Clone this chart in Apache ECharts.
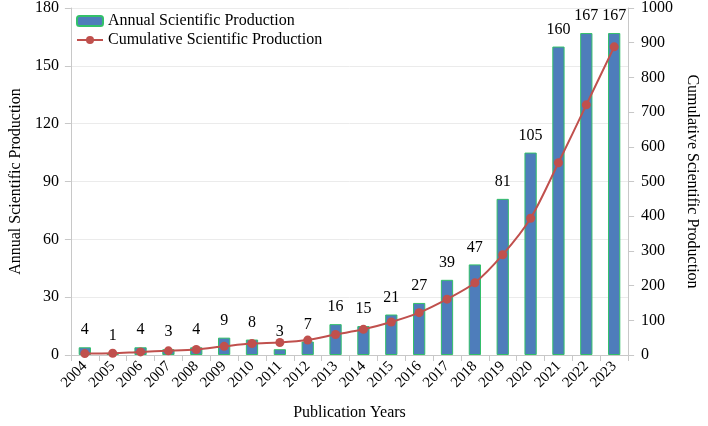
<!DOCTYPE html>
<html>
<head>
<meta charset="utf-8">
<script src="https://cdn.jsdelivr.net/npm/echarts@6/dist/echarts.min.js"></script>
<style>
  html, body { margin: 0; padding: 0; background: #fff; }
  #chart { width: 708px; height: 426px; }
</style>
</head>
<body>
<div id="chart"></div>
<script>
// data
const years = ['2004','2005','2006','2007','2008','2009','2010','2011','2012','2013',
               '2014','2015','2016','2017','2018','2019','2020','2021','2022','2023'];
const annual = [4, 1, 4, 3, 4, 9, 8, 3, 7, 16, 15, 21, 27, 39, 47, 81, 105, 160, 167, 167];
const cumulative = [4, 5, 9, 12, 16, 25, 33, 36, 43, 59, 74, 95, 122, 161, 208, 289, 394, 554, 721, 888];

const font = 'Liberation Serif, Times New Roman, serif';
const axisGray = '#c8c8c8';

const myChart = echarts.init(document.getElementById('chart'));

const option = {
  animation: false,
  textStyle: { fontFamily: font, color: '#000' },
  grid: { left: 55, right: 65, top: 8, bottom: 65 },
  legend: {
    orient: 'vertical',
    left: 71,
    top: 8,
    itemGap: 3,
    itemWidth: 26,
    itemHeight: 10,
    textStyle: { fontFamily: font, fontSize: 16, color: '#000' },
    data: ['Annual Scientific Production', 'Cumulative Scientific Production']
  },
  xAxis: {
    type: 'category',
    data: years,
    name: 'Publication Years',
    nameLocation: 'middle',
    nameGap: 50,
    nameTextStyle: { fontFamily: font, fontSize: 16, color: '#000' },
    axisLine: { lineStyle: { color: axisGray } },
    axisTick: { show: true, length: 6, lineStyle: { color: axisGray } },
    axisLabel: { rotate: 45, fontFamily: font, fontSize: 15, color: '#000', margin: 9 }
  },
  yAxis: [
    {
      type: 'value',
      min: 0, max: 180, interval: 30,
      name: 'Annual Scientific Production',
      nameLocation: 'middle',
      nameGap: 39,
      nameTextStyle: { fontFamily: font, fontSize: 16, color: '#000' },
      axisLine: { show: true, lineStyle: { color: axisGray } },
      axisTick: { show: true, length: 6, lineStyle: { color: axisGray } },
      axisLabel: { fontFamily: font, fontSize: 16, color: '#000', margin: 12 },
      splitLine: { lineStyle: { color: '#ebebeb' } }
    },
    {
      type: 'value',
      min: 0, max: 1000, interval: 100,
      name: 'Cumulative Scientific Production',
      nameLocation: 'middle',
      nameGap: 48,
      nameRotate: -90,
      nameTextStyle: { fontFamily: font, fontSize: 16, color: '#000' },
      axisLine: { show: true, lineStyle: { color: axisGray } },
      axisTick: { show: true, length: 6, lineStyle: { color: axisGray } },
      axisLabel: {
        fontFamily: font, fontSize: 16, color: '#000', margin: 13,
        formatter: function (v) { return String(v); }
      },
      splitLine: { show: false }
    }
  ],
  series: [
    {
      name: 'Annual Scientific Production',
      type: 'bar',
      data: annual,
      barWidth: '44%',
      itemStyle: { color: '#4e7dbb', borderColor: '#33c06a', borderWidth: 1 },
      label: {
        show: true, position: 'top', distance: 9,
        fontFamily: font, fontSize: 16, color: '#000'
      }
    },
    {
      name: 'Cumulative Scientific Production',
      type: 'line',
      yAxisIndex: 1,
      data: cumulative,
      smooth: 0.3,
      symbol: 'circle',
      symbolSize: 9,
      lineStyle: { color: '#c0504d', width: 2 },
      itemStyle: { color: '#c0504d' }
    }
  ]
};

myChart.setOption(option);
</script>
</body>
</html>
